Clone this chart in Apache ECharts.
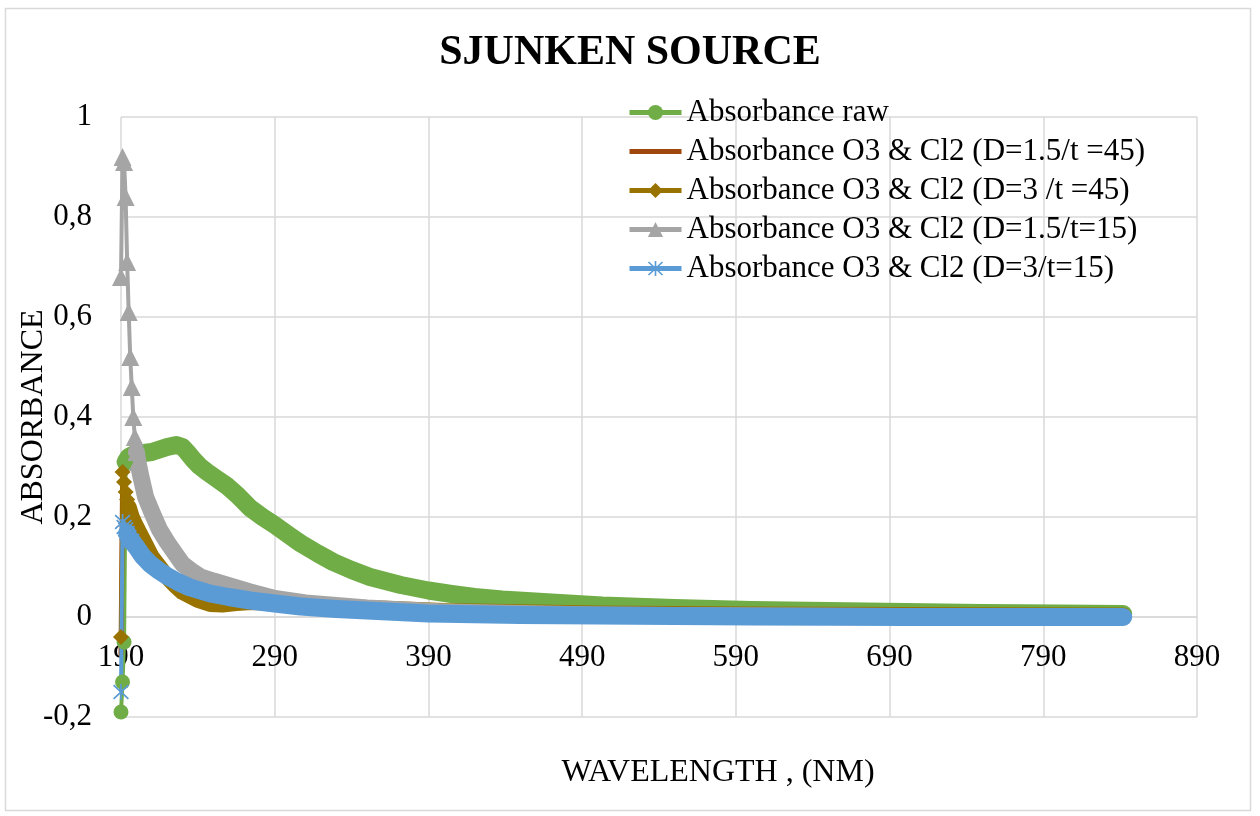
<!DOCTYPE html>
<html>
<head>
<meta charset="utf-8">
<script src="https://cdn.jsdelivr.net/npm/echarts@6/dist/echarts.min.js"></script>
<style>html,body{margin:0;padding:0;background:#fff}#c{width:1260px;height:816px}</style>
</head>
<body>
<div id="c"></div>
<script>
// ---- data ----
const seriesNames = [
  'Absorbance raw',
  'Absorbance O3 & Cl2 (D=1.5/t =45)',
  'Absorbance O3 & Cl2 (D=3 /t =45)',
  'Absorbance O3 & Cl2 (D=1.5/t=15)',
  'Absorbance O3 & Cl2 (D=3/t=15)'
];
const xTicks = [190, 290, 390, 490, 590, 690, 790, 890];
const yTicks = [-0.2, 0, 0.2, 0.4, 0.6, 0.8, 1];

const wlRaw  = [190, 191, 192, 193, 195, 200, 205, 210, 215, 220, 226, 230, 233, 237, 241, 246, 252, 259, 266, 274, 282, 290, 300, 307, 318, 328, 340, 352, 372, 390, 405, 420, 438, 470, 503, 550, 600, 650, 700, 750, 800, 842];
const absRaw = [-0.19, -0.13, -0.05, 0.31, 0.32, 0.328, 0.328, 0.33, 0.335, 0.34, 0.344, 0.34, 0.33, 0.315, 0.302, 0.29, 0.277, 0.262, 0.243, 0.218, 0.2, 0.184, 0.162, 0.147, 0.127, 0.11, 0.094, 0.08, 0.064, 0.053, 0.046, 0.04, 0.035, 0.029, 0.023, 0.018, 0.014, 0.012, 0.01, 0.008, 0.007, 0.006];

const wlD15t45  = [190, 191, 192, 194, 196, 198, 200, 205, 210, 215, 220, 225, 230, 240, 248, 256, 265, 275, 290, 310, 350, 400, 500, 600, 700, 842];
const absD15t45 = [-0.075, 0.26, 0.25, 0.23, 0.215, 0.2, 0.185, 0.15, 0.12, 0.098, 0.08, 0.064, 0.05, 0.034, 0.027, 0.026, 0.028, 0.029, 0.027, 0.024, 0.018, 0.012, 0.007, 0.005, 0.004, 0.003];

const wlD3t45  = [190, 191, 192, 193, 194, 195, 197, 200, 205, 210, 215, 220, 225, 230, 240, 248, 256, 265, 275, 290, 310, 350, 400, 500, 600, 700, 842];
const absD3t45 = [-0.04, 0.29, 0.27, 0.25, 0.235, 0.22, 0.2, 0.18, 0.15, 0.12, 0.1, 0.08, 0.064, 0.05, 0.034, 0.026, 0.025, 0.028, 0.03, 0.028, 0.024, 0.018, 0.012, 0.007, 0.005, 0.004, 0.003];

const wlD15t15  = [190, 191, 192, 193, 194, 195, 196, 197, 198, 199, 200, 201, 203, 206, 210, 215, 220, 225, 230, 236, 242, 250, 263, 274, 290, 310, 350, 400, 500, 600, 700, 842];
const absD15t15 = [0.68, 0.92, 0.91, 0.84, 0.71, 0.61, 0.52, 0.46, 0.40, 0.36, 0.33, 0.31, 0.28, 0.24, 0.21, 0.175, 0.15, 0.128, 0.106, 0.092, 0.08, 0.072, 0.06, 0.05, 0.037, 0.028, 0.018, 0.01, 0.004, 0.002, 0.001, 0.0];

const wlD3t15  = [190, 191, 192, 193, 194, 195, 197, 200, 204, 209, 215, 220, 227, 235, 248, 260, 274, 290, 307, 330, 350, 390, 450, 500, 600, 700, 842];
const absD3t15 = [-0.15, 0.19, 0.18, 0.175, 0.168, 0.16, 0.152, 0.14, 0.122, 0.106, 0.092, 0.082, 0.07, 0.059, 0.047, 0.04, 0.033, 0.027, 0.021, 0.016, 0.013, 0.007, 0.004, 0.003, 0.001, 0.0, 0.0];

// ---- build ----
const FONT = "'Liberation Serif','Times New Roman',serif";
const STAR = 'path://M9,0H11V20H9Z M0.7,2.1L2.1,0.7L19.3,17.9L17.9,19.3Z M17.9,0.7L19.3,2.1L2.1,19.3L0.7,17.9Z';

function pairs(xs, ys, from, to) {
  const out = [];
  for (let i = from; i < (to === undefined ? xs.length : to); i++) out.push([xs[i], ys[i]]);
  return out;
}
function stem(name, xs, ys, lastIdx, color, symbol, size) {
  return {
    type: 'line', name: name, data: pairs(xs, ys, 0, lastIdx + 1),
    symbol: symbol, symbolSize: size, showSymbol: true,
    lineStyle: { width: 4, color: color }, itemStyle: { color: color, borderWidth: 0 },
    emphasis: { disabled: true }
  };
}
function band(name, xs, ys, startIdx, color, width) {
  return {
    type: 'line', name: name, data: pairs(xs, ys, startIdx),
    symbol: 'none', showSymbol: false,
    lineStyle: { width: width, color: color, cap: 'round', join: 'round' },
    itemStyle: { color: color },
    emphasis: { disabled: true }
  };
}

const colors = ['#70AD47', '#9E480E', '#997300', '#A5A5A5', '#5B9BD5'];

const series = [
  stem(seriesNames[0], wlRaw, absRaw, 3, colors[0], 'circle', 15),
  band(seriesNames[0], wlRaw, absRaw, 3, colors[0], 18),
  {
    type: 'line', name: seriesNames[1], data: pairs(wlD15t45, absD15t45, 0),
    symbol: 'none', showSymbol: false,
    lineStyle: { width: 5, color: colors[1], cap: 'round', join: 'round' },
    itemStyle: { color: colors[1] }, emphasis: { disabled: true }
  },
  stem(seriesNames[2], wlD3t45, absD3t45, 6, colors[2], 'diamond', 16),
  band(seriesNames[2], wlD3t45, absD3t45, 5, colors[2], 16),
  stem(seriesNames[3], wlD15t15, absD15t15, 11, colors[3], 'triangle', 18),
  band(seriesNames[3], wlD15t15, absD15t15, 10, colors[3], 17),
  stem(seriesNames[4], wlD3t15, absD3t15, 6, colors[4], STAR, 16),
  band(seriesNames[4], wlD3t15, absD3t15, 4, colors[4], 18)
];

const legendData = seriesNames.map(function (n, i) {
  return i === 1 ? { name: n, icon: 'path://M0,0H52V5H0Z' } : { name: n };
});

const chart = echarts.init(document.getElementById('c'), null, { renderer: 'canvas' });
chart.setOption({
  animation: false,
  backgroundColor: '#fff',
  title: {
    text: 'SJUNKEN SOURCE', left: 'center', top: 27,
    textStyle: { fontFamily: FONT, fontSize: 42, fontWeight: 'bold', color: '#000' }
  },
  legend: {
    data: legendData, orient: 'vertical', left: 627, top: 97, padding: 0,
    itemWidth: 52, itemHeight: 19, itemGap: 8,
    textStyle: { fontFamily: FONT, fontSize: 31, color: '#000' },
    lineStyle: { width: 5 }
  },
  grid: { left: 121, right: 63, top: 117, bottom: 99, containLabel: false, outerBoundsMode: 'none' },
  xAxis: {
    type: 'value', min: xTicks[0], max: xTicks[xTicks.length - 1], interval: 100,
    position: 'bottom', offset: -100,
    name: 'WAVELENGTH , (NM)', nameLocation: 'middle', nameGap: 140, nameMoveOverlap: false,
    nameTextStyle: { fontFamily: FONT, fontSize: 32, color: '#000', padding: [0, 0, 0, 118] },
    axisLine: { show: true, onZero: false, lineStyle: { color: '#d9d9d9', width: 1.5 } },
    axisTick: { show: false },
    axisLabel: { fontFamily: FONT, fontSize: 31, color: '#000', margin: 25, showMinLabel: true, showMaxLabel: true },
    splitLine: { show: true, lineStyle: { color: '#d9d9d9', width: 1.5 } }
  },
  yAxis: {
    type: 'value', min: yTicks[0], max: yTicks[yTicks.length - 1], interval: 0.2,
    name: 'ABSORBANCE', nameLocation: 'middle', nameGap: 63, nameRotate: 90, nameMoveOverlap: false,
    nameTextStyle: { fontFamily: FONT, fontSize: 32, color: '#000', padding: [0, 0, 8, 0] },
    axisLine: { show: false }, axisTick: { show: false },
    axisLabel: {
      fontFamily: FONT, fontSize: 31, color: '#000', margin: 29,
      formatter: function (v) { return String(Math.round(v * 10) / 10).replace('.', ','); }
    },
    splitLine: { show: true, lineStyle: { color: '#d9d9d9', width: 1.5 } }
  },
  graphic: [{
    type: 'rect', shape: { x: 5.5, y: 8.5, width: 1245, height: 802 },
    style: { fill: null, stroke: '#d9d9d9', lineWidth: 1.5 }, silent: true, z: -10
  }],
  series: series
});
</script>
</body>
</html>
